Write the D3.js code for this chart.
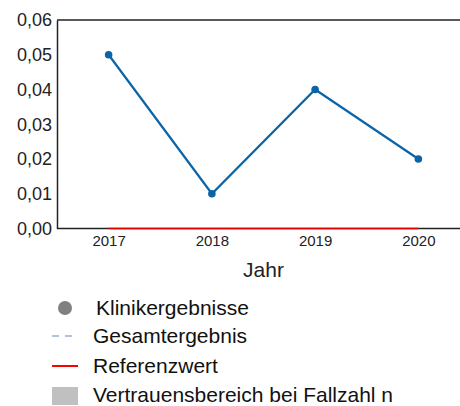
<!DOCTYPE html>
<html><head><meta charset="utf-8">
<script src="https://cdn.jsdelivr.net/npm/d3@7"></script>
<style>
html,body{margin:0;padding:0;background:#fff;}
svg{display:block;font-family:"Liberation Sans",Arial,sans-serif;}
</style></head>
<body>
<svg id="chart" width="460" height="406"></svg>
<script>
const years = ["2017","2018","2019","2020"];
const klinikValues = [0.05, 0.01, 0.04, 0.02];
const referenzValues = [0, 0, 0, 0];
const yTicks = [0, 0.01, 0.02, 0.03, 0.04, 0.05, 0.06];
const legendLabels = ["Klinikergebnisse","Gesamtergebnis","Referenzwert","Vertrauensbereich bei Fallzahl n"];

const svg = d3.select("#chart");
const mLeft = 57, mTop = 20, mBottom = 228.5, mRight = 470;

const x = d3.scalePoint().domain(years).range([mLeft, mRight]).padding(0.5);
const y = d3.scaleLinear().domain([0, 0.06]).range([mBottom, mTop]);
const fmt = d => d3.format(".2f")(d).replace(".", ",");

// frame: top, left, bottom
svg.append("line").attr("x1", mLeft).attr("x2", 460).attr("y1", mTop).attr("y2", mTop)
  .attr("stroke", "#222").attr("stroke-width", 1.5);
const yAxis = svg.append("g").attr("transform", `translate(${mLeft},0)`)
  .call(d3.axisLeft(y).tickValues(yTicks).tickFormat(fmt).tickSize(0).tickPadding(5));
yAxis.select(".domain").attr("stroke", "#222").attr("stroke-width", 1.5);
yAxis.selectAll("text").attr("font-size", 18).attr("fill", "#222").attr("font-family", "Liberation Sans, Arial, sans-serif");

const xAxis = svg.append("g").attr("transform", `translate(0,${mBottom})`)
  .call(d3.axisBottom(x).tickSize(0).tickPadding(7));
xAxis.select(".domain").attr("d", `M${mLeft},0H460`).attr("stroke", "#222").attr("stroke-width", 1.5);
xAxis.selectAll("text").attr("font-size", 15).attr("fill", "#222").attr("font-family", "Liberation Sans, Arial, sans-serif");

svg.append("text").attr("x", 263.5).attr("y", 277).attr("text-anchor", "middle")
  .attr("font-size", 21).attr("fill", "#222").text("Jahr");

// reference line
svg.append("path").datum(referenzValues)
  .attr("d", d3.line().x((d, i) => x(years[i])).y(d => y(d)))
  .attr("fill", "none").attr("stroke", "#e00000").attr("stroke-width", 1.6);

// klinik line
svg.append("path").datum(klinikValues)
  .attr("d", d3.line().x((d, i) => x(years[i])).y(d => y(d)))
  .attr("fill", "none").attr("stroke", "#0a64a8").attr("stroke-width", 2.2);
svg.selectAll("circle.pt").data(klinikValues).enter().append("circle")
  .attr("class", "pt").attr("cx", (d, i) => x(years[i])).attr("cy", d => y(d)).attr("r", 3.8)
  .attr("fill", "#0a64a8");

// legend
const rows = [308, 336, 366, 395];
const lg = svg.append("g");
lg.append("circle").attr("cx", 65).attr("cy", rows[0]).attr("r", 7).attr("fill", "#808080");
lg.append("line").attr("x1", 52).attr("x2", 78).attr("y1", rows[1]).attr("y2", rows[1])
  .attr("stroke", "#9ab0d0").attr("stroke-width", 1.6).attr("stroke-dasharray", "7,6");
lg.append("line").attr("x1", 52).attr("x2", 78).attr("y1", rows[2]).attr("y2", rows[2])
  .attr("stroke", "#ff0000").attr("stroke-width", 2);
lg.append("rect").attr("x", 52).attr("y", rows[3] - 8).attr("width", 26).attr("height", 18)
  .attr("fill", "#c0c0c0");
lg.selectAll("text").data(legendLabels).enter().append("text")
  .attr("x", (d, i) => i === 0 ? 96 : 93).attr("y", (d, i) => rows[i] + 7)
  .attr("font-size", 21).attr("fill", "#111").text(d => d);
</script>
</body></html>
